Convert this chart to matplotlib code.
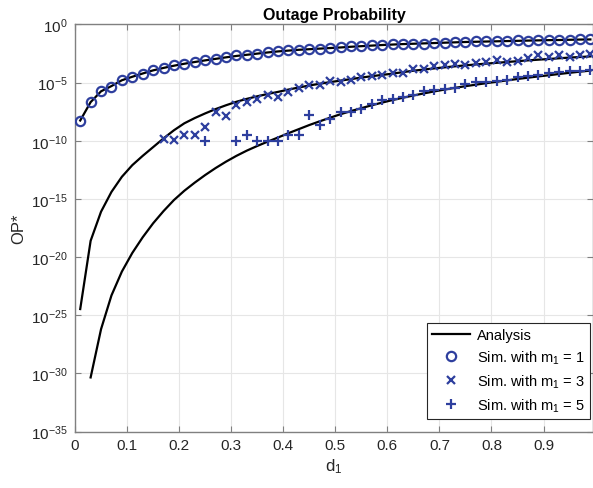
import numpy as np
import matplotlib
matplotlib.use("Agg")
import matplotlib.pyplot as plt
from matplotlib.ticker import FixedLocator, NullLocator, FuncFormatter

plt.rcParams['font.family'] = ['Liberation Sans', 'DejaVu Sans']
plt.rcParams['mathtext.fontset'] = 'custom'
plt.rcParams['mathtext.rm'] = 'Liberation Sans'
plt.rcParams['mathtext.it'] = 'Liberation Sans'
plt.rcParams['mathtext.bf'] = 'Liberation Sans:bold'

# ---- data (log10 of OP*) ----
d_all = [0.01, 0.03, 0.05, 0.07, 0.09, 0.11, 0.13, 0.15, 0.17, 0.19,
         0.21, 0.23, 0.25, 0.27, 0.29, 0.31, 0.33, 0.35, 0.37, 0.39,
         0.41, 0.43, 0.45, 0.47, 0.49, 0.51, 0.53, 0.55, 0.57, 0.59,
         0.61, 0.63, 0.65, 0.67, 0.69, 0.71, 0.73, 0.75, 0.77, 0.79,
         0.81, 0.83, 0.85, 0.87, 0.89, 0.91, 0.93, 0.95, 0.97, 0.99]

an_m1_log = [-8.26, -6.68, -5.75, -5.3, -4.8, -4.5, -4.22, -3.95, -3.74, -3.55,
             -3.38, -3.23, -3.09, -2.96, -2.83, -2.71, -2.61, -2.51, -2.41, -2.32,
             -2.25, -2.18, -2.13, -2.08, -2.03, -1.98, -1.92, -1.87, -1.82, -1.77,
             -1.73, -1.69, -1.66, -1.63, -1.6, -1.57, -1.54, -1.51, -1.49, -1.47,
             -1.45, -1.43, -1.41, -1.39, -1.37, -1.35, -1.34, -1.32, -1.3, -1.29]

an_m3_log = [-24.47, -18.6, -16.1, -14.4, -13.1, -12.1, -11.3, -10.55, -9.8, -9.1,
             -8.5, -8.05, -7.65, -7.28, -6.95, -6.65, -6.4, -6.18, -5.98, -5.8,
             -5.6, -5.42, -5.25, -5.1, -4.96, -4.83, -4.7, -4.57, -4.45, -4.34,
             -4.23, -4.1, -3.98, -3.88, -3.78, -3.69, -3.6, -3.52, -3.44, -3.37,
             -3.3, -3.23, -3.16, -3.09, -3.03, -2.97, -2.91, -2.85, -2.8, -2.75]

d_an_m5 = d_all[1:]
an_m5_log = [-30.35, -26.2, -23.3, -21.25, -19.65, -18.3, -17.1, -16.05, -15.1,
             -14.3, -13.6, -12.95, -12.35, -11.8, -11.3, -10.85, -10.45, -10.08, -9.72,
             -9.35, -9.0, -8.65, -8.33, -8.02, -7.72, -7.45, -7.2, -6.95, -6.72,
             -6.5, -6.3, -6.11, -5.93, -5.76, -5.6, -5.45, -5.31, -5.18, -5.05,
             -4.93, -4.81, -4.69, -4.58, -4.47, -4.37, -4.26, -4.16, -4.06, -3.97]

sim_m1_log = [-8.26, -6.68, -5.73, -5.34, -4.76, -4.5, -4.22, -3.92, -3.73, -3.53,
              -3.38, -3.24, -3.1, -2.95, -2.81, -2.67, -2.61, -2.5, -2.38, -2.29,
              -2.24, -2.18, -2.15, -2.09, -2.03, -1.98, -1.89, -1.86, -1.81, -1.75,
              -1.72, -1.69, -1.66, -1.66, -1.57, -1.57, -1.55, -1.51, -1.46, -1.46,
              -1.46, -1.46, -1.38, -1.4, -1.38, -1.38, -1.34, -1.32, -1.29, -1.29]

d_sim_m3 = d_all[8:]
sim_m3_log = [-9.84, -9.9, -9.49, -9.49, -8.83, -7.54, -7.83, -6.91, -6.68, -6.45,
              -6.05, -6.25, -5.77, -5.5, -5.19, -5.19, -4.9, -4.96, -4.82, -4.53,
              -4.44, -4.39, -4.16, -4.16, -3.87, -3.81, -3.58, -3.47, -3.38, -3.53,
              -3.3, -3.24, -3.1, -3.24, -3.18, -2.89, -2.67, -2.81, -2.67, -2.81,
              -2.61, -2.52]

d_sim_m5 = [0.25] + d_all[15:]
sim_m5_log = [-10.0, -10.0, -9.47, -10.0, -10.0, -10.0, -9.47, -9.47, -7.77, -8.63,
              -8.12, -7.54, -7.49, -7.25, -6.82, -6.54, -6.39, -6.25, -6.05, -5.75,
              -5.62, -5.53, -5.43, -5.1, -4.96, -4.91, -4.85, -4.74, -4.5, -4.44,
              -4.33, -4.21, -4.12, -4.04, -3.98, -3.94]

xticks = [0, 0.1, 0.2, 0.3, 0.4, 0.5, 0.6, 0.7, 0.8, 0.9]
ytick_exps = [-35, -30, -25, -20, -15, -10, -5, 0]

blue = '#2e3f9e'
gray_txt = '#262626'
spine_c = '#808080'

fig = plt.figure(figsize=(5.93, 4.89), dpi=100)
ax = fig.add_axes([0.1265, 0.1155, 1.0 - 0.1265, 0.948 - 0.1155])
ax.set_yscale('log')

pw = lambda a: 10.0 ** np.asarray(a)

ax.plot(d_all, pw(an_m1_log), color='black', lw=1.6, zorder=3, label='Analysis')
ax.plot(d_all, pw(an_m3_log), color='black', lw=1.6, zorder=3)
ax.plot(d_an_m5, pw(an_m5_log), color='black', lw=1.6, zorder=3)

ax.plot(d_all, pw(sim_m1_log), ls='none', marker='o', ms=6.7, mfc='none',
        mec=blue, mew=1.6, zorder=4, label='Sim. with m$_1$ = 1')
ax.plot(d_sim_m3, pw(sim_m3_log), ls='none', marker='x', ms=6,
        mec=blue, mew=1.6, zorder=4, label='Sim. with m$_1$ = 3')
ax.plot(d_sim_m5, pw(sim_m5_log), ls='none', marker='+', ms=7.5,
        mec=blue, mew=1.6, zorder=4, label='Sim. with m$_1$ = 5')

ax.set_xlim(0, 0.995)
ax.set_ylim(1e-35, 1e0)
ax.xaxis.set_major_locator(FixedLocator(xticks))
ax.xaxis.set_major_formatter(FuncFormatter(lambda v, p: ('%g' % v)))
ax.yaxis.set_major_locator(FixedLocator([10.0 ** e for e in ytick_exps]))
ax.yaxis.set_minor_locator(NullLocator())
ax.yaxis.set_major_formatter(FuncFormatter(
    lambda v, p: '$10^{%d}$' % int(round(np.log10(v)))))

ax.grid(True, color='#e6e6e6', lw=0.8)
ax.set_axisbelow(True)
for s in ax.spines.values():
    s.set_color(spine_c)
    s.set_linewidth(1.0)
ax.tick_params(direction='in', length=4, width=0.8, color=spine_c,
               labelsize=11, labelcolor=gray_txt, top=True, right=True, pad=5)

ax.set_title('Outage Probability', fontsize=11.5, fontweight='bold',
             color='black', pad=4)
ax.set_xlabel('d$_1$', fontsize=12, color=gray_txt, labelpad=3)
ax.set_ylabel('OP*', fontsize=12, color=gray_txt, labelpad=4)

leg = ax.legend(loc='lower right', bbox_to_anchor=(590 / 593, 1 - 420 / 489),
                bbox_transform=fig.transFigure, borderaxespad=0,
                fontsize=10.5, frameon=True, fancybox=False, framealpha=1,
                edgecolor=gray_txt, handlelength=2.6, handletextpad=0.5,
                labelspacing=0.45, borderpad=0.35)
leg.get_frame().set_linewidth(0.8)

fig.savefig('out.png', dpi=100)
